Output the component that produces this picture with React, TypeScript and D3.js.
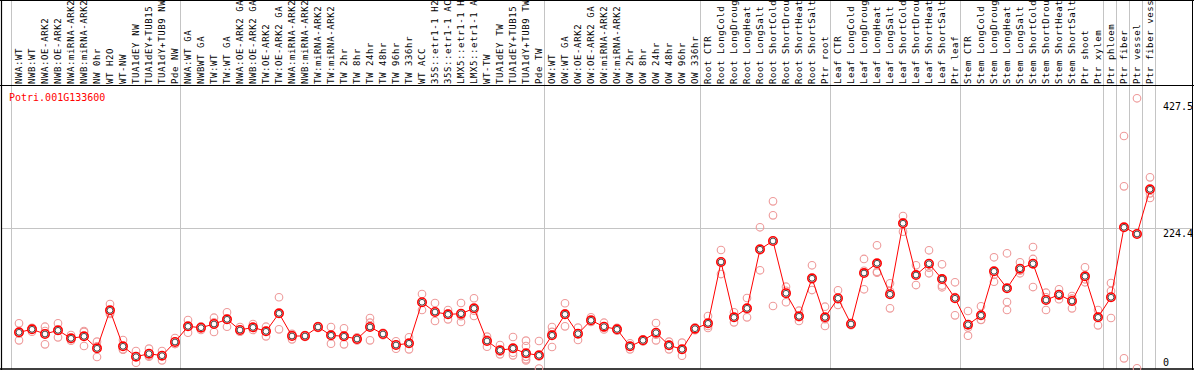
import React from "react";
import * as d3 from "d3";

const geneId = "Potri.001G133600";

const samples: string[] = [
  "NWA:WT", "NWB:WT", "NWA:OE-ARK2", "NWB:OE-ARK2", "NWA:miRNA-ARK2", "NWB:miRNA-ARK2",
  "NW 0hr", "WT H2O", "WT-NW", "TUA1dEY NW", "TUA1dEY+TUB15 NW", "TUA1dY+TUB9 NW", "Pde NW",
  "NWA:WT GA", "NWBWT GA", "TW:WT", "TW:WT GA", "NWA:OE-ARK2 GA", "NWB:OE-ARK2 GA", "TW:OE-ARK2",
  "TW:OE-ARK2 GA", "NWA:miRNA-ARK2 GA", "NWB:miRNA-ARK2 GA", "TW:miRNA-ARK2", "TW:miRNA-ARK2 GA",
  "TW 2hr", "TW 8hr", "TW 24hr", "TW 48hr", "TW 96hr", "TW 336hr", "WT ACC",
  "35S::etr1-1 H2O", "35S::etr1-1 ACC", "LMX5::etr1-1 H2O", "LMX5::etr1-1 ACC", "WT-TW",
  "TUA1dEY TW", "TUA1dEY+TUB15 TW", "TUA1dY+TUB9 TW", "Pde TW",
  "OW:WT", "OW:WT GA", "OW:OE-ARK2", "OW:OE-ARK2 GA", "OW:miRNA-ARK2", "OW:miRNA-ARK2 GA",
  "OW 2hr", "OW 8hr", "OW 24hr", "OW 48hr", "OW 96hr", "OW 336hr",
  "Root CTR", "Root LongCold", "Root LongDrought", "Root LongHeat", "Root LongSalt",
  "Root ShortCold", "Root ShortDrought", "Root ShortHeat", "Root ShortSalt", "Ptr root",
  "Leaf CTR", "Leaf LongCold", "Leaf LongDrought", "Leaf LongHeat", "Leaf LongSalt",
  "Leaf ShortCold", "Leaf ShortDrought", "Leaf ShortHeat", "Leaf ShortSalt", "Ptr leaf",
  "Stem CTR", "Stem LongCold", "Stem LongDrought", "Stem LongHeat", "Stem LongSalt",
  "Stem ShortCold", "Stem ShortDrought", "Stem ShortHeat", "Stem ShortSalt", "Ptr shoot",
  "Ptr xylem", "Ptr phloem", "Ptr fiber", "Ptr vessel", "Ptr fiber vessel",
];

// indices of samples that start a new group (separator lines), last = end
const groupStarts: number[] = [0, 13, 41, 53, 63, 73, 84, 85, 86, 87, 88];

const means: number[] = [
  57.9, 62.7, 55.2, 61.1, 48.3, 51.5, 32.3, 93.1, 35.5, 18.9, 23.7, 20.5, 42.4,
  67.5, 65.3, 71.2, 78.7, 61.6, 65.9, 59.5, 88.3, 52.0, 52.0, 66.4, 53.1, 51.5, 47.2, 66.4,
  55.2, 37.6, 40.3, 106.0, 90.4, 86.7, 87.7, 96.3, 44.0, 29.1, 32.3, 24.3, 21.1,
  53.1, 86.7, 55.7, 77.1, 66.9, 62.7, 35.5, 45.1, 57.3, 37.1, 30.7, 63.7,
  72.3, 170.5, 81.9, 96.3, 190.8, 204.1, 120.4, 83.5, 144.4, 81.9,
  112.4, 71.2, 152.8, 168.4, 118.8, 232.4, 149.6, 167.7, 143.2, 112.4,
  70.1, 85.1, 155.6, 128.4, 159.7, 167.7, 109.6, 118.1, 108.0, 147.6, 81.9,
  114.0, 226.0, 215.3, 286.8,
];

const replicates: number[][] = [
  [72.3, 45.1, 56.3], [58.9, 64.0, 65.2], [66.9, 38.7, 60.0], [72.3, 49.9, 61.1],
  [53.6, 44.5, 46.8], [60.0, 36.0, 58.5], [42.9, 18.4, 35.6], [103.2, 87.2, 88.9],
  [45.6, 30.7, 30.2], [28.0, 9.3, 19.4], [31.7, 18.9, 20.5], [28.0, 13.1, 20.4],
  [48.8, 39.2, 39.2],
  [77.6, 57.3, 67.6], [61.6, 67.0, 67.3], [81.3, 58.4, 73.9], [89.9, 66.9, 79.3],
  [66.4, 59.0, 59.4], [71.2, 61.6, 64.9], [66.9, 51.5, 60.1], [114.0, 62.7, 88.2],
  [46.7, 54.0, 55.3], [50.5, 53.5, 52.0], [66.4, 68.0, 64.8], [66.4, 39.7, 53.2],
  [64.3, 38.7, 51.5], [49.9, 45.0, 46.7], [80.8, 73.3, 45.1], [55.2, 53.5, 56.9],
  [43.5, 31.7, 37.6], [49.9, 30.7, 40.3], [119.2, 93.6, 105.2], [104.8, 76.0, 90.4],
  [93.6, 78.7, 87.8], [104.8, 74.4, 83.9], [112.4, 84.0, 92.5], [50.9, 34.9, 46.2],
  [37.6, 22.7, 27.0], [50.4, 21.1, 25.4], [44.5, 36.0, 18.9, 14.7, 12.8, 19.0],
  [44.0, 0, 19.3],
  [66.4, 34.4, 58.5], [104.4, 67.5, 88.2], [65.3, 45.6, 56.2], [81.9, 75.0, 74.4],
  [73.3, 64.8, 62.6], [62.7, 60.5, 64.9], [30.7, 40.3, 35.5], [46.7, 43.5, 45.1],
  [72.8, 45.1, 54.0], [42.9, 30.7, 37.7], [41.3, 20.5, 30.3], [65.9, 61.5, 63.7],
  [84.0, 64.8, 68.1], [189.7, 151.2, 170.6], [89.9, 73.9, 81.9], [112.8, 81.9, 94.2],
  [226.0, 157.2, 189.2], [267.6, 245.2, 100.0], [130.9, 106.0, 124.3], [92.5, 76.0, 82.0],
  [165.2, 125.6, 142.4], [98.9, 68.0, 78.8],
  [125.2, 101.6, 110.4], [71.2, 69.5, 72.9], [175.3, 126.8, 156.3], [197.2, 153.3, 154.7],
  [136.4, 96.3, 123.7], [244.1, 219.0, 234.1], [165.2, 133.6, 150.0], [189.2, 152.4, 161.5],
  [166.8, 130.0, 132.8], [138.0, 85.1, 114.1],
  [92.0, 52.5, 65.8], [99.6, 77.6, 78.1], [178.0, 138.9, 149.9], [184.4, 106.4, 93.6],
  [170.0, 152.4, 156.7], [194.5, 175.3, 130.4], [121.3, 93.6, 113.9], [126.8, 110.8, 116.7],
  [116.0, 96.3, 111.7], [162.0, 138.0, 142.8], [93.6, 69.1, 83.0],
  [136.8, 124.0, 80.8], [372.1, 291.6, 16.3], [432.5, 0.3], [306.0, 272.9, 280.4],
];

const yTicks: string[] = ["0", "224.4", "427.5"];
const gridValues: number[] = [224.4];

const W = 1194;
const H = 370;
const FONT = "'DejaVu Sans Mono', 'Liberation Mono', monospace";

export default function App() {
  const x = d3
    .scaleBand<number>()
    .domain(samples.map((_, i) => i))
    .range([11.5, 11.5 + samples.length * 13])
    .padding(0);
  const cx = (i: number) => (x(i) as number) + 7.5;
  const sepX = (i: number) => 11.5 + i * x.step();

  const y = d3.scaleLinear().domain([0, 427.5]).range([368.5, 101.4]);

  const line = d3
    .line<number>()
    .x((_, i) => cx(i))
    .y((d) => y(d));

  const bottom = 369;

  return (
    <svg
      width={W}
      height={H}
      style={{ position: "absolute", left: 0, top: 0, background: "#fff" }}
      fontFamily={FONT}
    >
      <rect x={0} y={0} width={W} height={H} fill="#fff" />
      {/* horizontal grid */}
      {gridValues.map((v) => (
        <line key={v} x1={1} x2={1193} y1={Math.round(y(v)) + 0.5} y2={Math.round(y(v)) + 0.5} stroke="#c4c4c4" strokeWidth={1} />
      ))}
      {/* group separators */}
      {groupStarts.map((g) => (
        <line key={g} x1={sepX(g)} x2={sepX(g)} y1={0} y2={bottom} stroke="#c4c4c4" strokeWidth={1} />
      ))}
      {/* sample labels */}
      {samples.map((s, i) => (
        <text
          key={i}
          transform={`translate(${cx(i) + 2.5},84) rotate(-90)`}
          fontSize={9}
          letterSpacing={0.6}
          fill="#000"
        >
          {s}
        </text>
      ))}
      {/* frame */}
      <line x1={0} x2={W} y1={0.5} y2={0.5} stroke="#000" strokeWidth={1} />
      <line x1={0} x2={W} y1={85.5} y2={85.5} stroke="#000" strokeWidth={1} />
      <line x1={1.5} x2={1.5} y1={0} y2={H} stroke="#000" strokeWidth={1.2} />
      <line x1={1192.5} x2={1192.5} y1={0} y2={H} stroke="#000" strokeWidth={1} />
      <line x1={0} x2={W} y1={bottom} y2={bottom} stroke="#000" strokeWidth={1.5} />
      {/* title */}
      <text x={9} y={101} fontSize={10} fill="#ff0000">
        {geneId}
      </text>
      {/* y labels */}
      {yTicks.map((t) => (
        <text key={t} x={1163} y={Math.min(y(+t) + 8.5, 365.5)} fontSize={10} fill="#000">
          {t}
        </text>
      ))}
      {/* replicates */}
      {replicates.map((reps, i) =>
        reps.map((v, j) => (
          <circle key={`${i}-${j}`} cx={cx(i)} cy={y(v)} r={3.8} fill="none" stroke="#ee9a9a" strokeWidth={1.1} />
        ))
      )}
      {/* mean line */}
      <path d={line(means) || ""} fill="none" stroke="#ff0000" strokeWidth={1} />
      {/* means */}
      {means.map((v, i) => (
        <g key={i}>
          <circle cx={cx(i)} cy={y(v)} r={4.2} fill="#fff" stroke="#ff0000" strokeWidth={1.6} />
          <circle cx={cx(i)} cy={y(v)} r={2.9} fill="none" stroke="#000" strokeWidth={0.7} />
        </g>
      ))}
    </svg>
  );
}
